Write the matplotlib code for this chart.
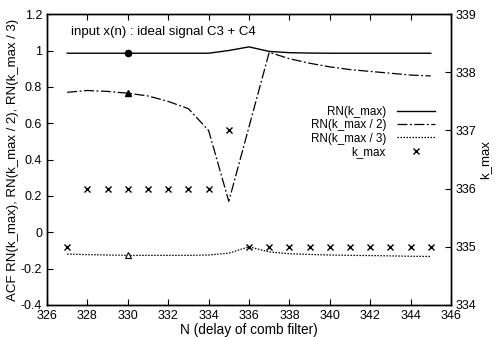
import numpy as np
import matplotlib
matplotlib.use('Agg')
import matplotlib.pyplot as plt

plt.rcParams['font.family'] = ['Liberation Sans', 'DejaVu Sans']
plt.rcParams['font.size'] = 9

# data
N = [327, 328, 329, 330, 331, 332, 333, 334, 335, 336, 337, 338, 339, 340, 341, 342, 343, 344, 345]
rn_kmax = [0.985, 0.985, 0.985, 0.985, 0.985, 0.985, 0.985, 0.985, 1.0, 1.02, 0.995, 0.988, 0.986, 0.985, 0.985, 0.985, 0.985, 0.985, 0.985]
rn_kmax2 = [0.77, 0.78, 0.775, 0.765, 0.75, 0.72, 0.68, 0.56, 0.17, 0.58, 0.99, 0.955, 0.93, 0.91, 0.895, 0.885, 0.875, 0.865, 0.86]
rn_kmax3 = [-0.12, -0.123, -0.125, -0.127, -0.127, -0.127, -0.127, -0.125, -0.115, -0.08, -0.108, -0.118, -0.122, -0.125, -0.127, -0.128, -0.13, -0.132, -0.133]
k_max = [335, 336, 336, 336, 336, 336, 336, 336, 337, 335, 335, 335, 335, 335, 335, 335, 335, 335, 335]
mark_n = 330
labels = ['RN(k_max)', 'RN(k_max / 2)', 'RN(k_max / 3)', 'k_max']

fig = plt.figure(figsize=(4.97, 3.37), dpi=100)
ax = fig.add_axes([0.0946, 0.095, 0.8128, 0.863])
ax2 = ax.twinx()

l1, = ax.plot(N, rn_kmax, color='black', lw=1.0, ls='-')
l2, = ax.plot(N, rn_kmax2, color='black', lw=0.9, ls=(0, (8, 2, 1.5, 2)))
l3, = ax.plot(N, rn_kmax3, color='black', lw=0.9, ls=(0, (1.2, 1.2)))
i = N.index(mark_n)
ax.plot(mark_n, rn_kmax[i], 'o', color='black', ms=4.5)
ax.plot(mark_n, rn_kmax2[i], '^', color='black', ms=4.5)
ax.plot(mark_n, rn_kmax3[i], '^', mfc='white', mec='black', ms=4.5, mew=0.8)
l4, = ax2.plot(N, k_max, 'x', color='black', ms=4.5, mew=1.0)

ax.set_xlim(326, 346)
ax.set_ylim(-0.4, 1.2)
ax.set_xticks(np.arange(326, 347, 2))
ax.set_yticks([-0.4, -0.2, 0, 0.2, 0.4, 0.6, 0.8, 1, 1.2])
ax.set_yticklabels(['-0.4', '-0.2', '0', '0.2', '0.4', '0.6', '0.8', '1', '1.2'])
ax2.set_ylim(334, 339)
ax2.set_yticks([334, 335, 336, 337, 338, 339])

ax.tick_params(direction='in', top=True, length=4, width=0.8, labelsize=9)
ax2.tick_params(direction='in', length=4, width=0.8, labelsize=9)
for a in (ax, ax2):
    for s in a.spines.values():
        s.set_linewidth(1.0)

ax.set_xlabel('N (delay of comb filter)', fontsize=9.8, labelpad=1)
ax.set_ylabel('ACF ' + ', '.join(labels[:3]), fontsize=9.5, labelpad=1)
ax2.set_ylabel('k_max', fontsize=9.5, labelpad=2)

ax.text(327.2, 1.1, 'input x(n) : ideal signal C3 + C4', fontsize=9.5, va='center')

leg = ax.legend([l1, l2, l3, l4], labels,
                loc='upper right', bbox_to_anchor=(0.975, 0.705), frameon=False,
                markerfirst=False, fontsize=8.4, handlelength=3.3,
                handletextpad=0.9, labelspacing=0.12, borderpad=0)

fig.savefig('out.png', dpi=100)
